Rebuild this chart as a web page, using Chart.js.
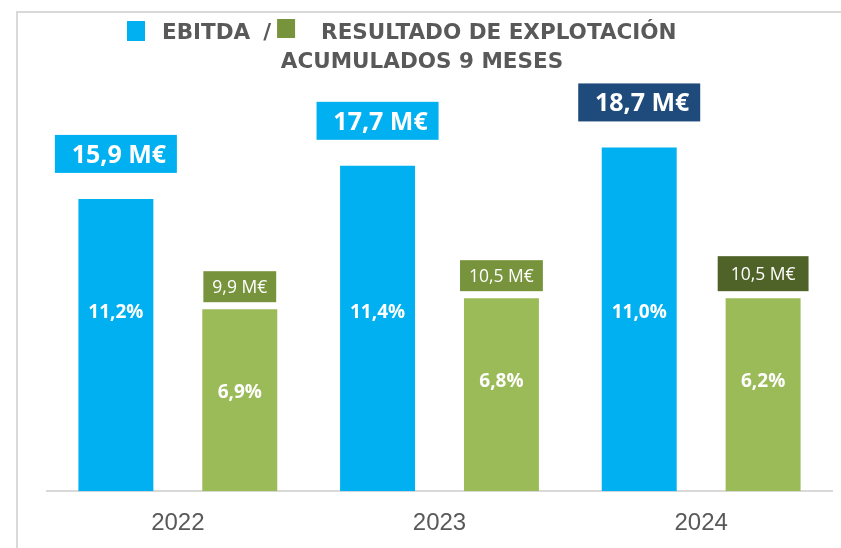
<!DOCTYPE html>
<html>
<head>
<meta charset="utf-8">
<script src="https://cdn.jsdelivr.net/npm/chart.js@4.4.1/dist/chart.umd.min.js"></script>
<style>
    html, body { margin: 0; padding: 0; background: #ffffff; }
    #wrap { position: relative; width: 841px; height: 548px; overflow: hidden; }
    #marco {
        position: absolute; left: 16px; top: 11px; right: 0; bottom: 0;
        border-left: 2px solid #d9d9d9; border-top: 2px solid #d9d9d9;
    }
    #myChart { position: absolute; left: 0; top: 0; }
</style>
</head>
<body>
<div id="wrap">
    <div id="marco"></div>
    <canvas id="myChart" width="841" height="551"></canvas>
</div>
<script>
// datos (acumulados 9 meses, M€ y margen %)
const anios = ['2022', '2023', '2024'];
const ebitda = [15.9, 17.7, 18.7];
const resultado = [9.9, 10.5, 10.5];
const margenEbitda = [11.2, 11.4, 11.0];
const margenResultado = [6.9, 6.8, 6.2];

const azul = '#00B0F0';
const verde = '#9BBB59';
const gris = '#595959';

function coma(v) {
    return v.toFixed(1).replace('.', ',');
}

// cabecera con los cuadros de color
const cabecera = {
    id: 'cabecera',
    afterDraw(chart) {
        const c = chart.ctx;
        c.save();
        c.font = 'bold 21.5px "DejaVu Sans"';
        c.textBaseline = 'alphabetic';
        let x = 127;
        c.fillStyle = azul;
        c.fillRect(x, 21, 18, 20);
        x += 18 + 17;
        c.fillStyle = gris;
        c.fillText('EBITDA', x, 39);
        x += c.measureText('EBITDA').width + 13;
        c.fillText('/', x, 39);
        x += c.measureText('/').width + 6;
        c.fillStyle = '#77933C';
        c.fillRect(x, 19, 18, 19);
        x += 18 + 26;
        c.fillStyle = gris;
        c.fillText('RESULTADO DE EXPLOTACIÓN', x, 39);
        c.textAlign = 'center';
        c.fillText('ACUMULADOS 9 MESES', 422, 68);
        c.restore();
    }
};

// cajas con el importe encima y margen dentro de la barra
const etiquetas = {
    id: 'etiquetas',
    afterDatasetsDraw(chart) {
        const c = chart.ctx;
        const abajo = chart.chartArea.bottom;
        c.save();
        c.textAlign = 'center';
        c.textBaseline = 'alphabetic';

        chart.getDatasetMeta(0).data.forEach(function (bar, i) {
            const ultimo = i === anios.length - 1;
            c.fillStyle = ultimo ? '#1F4A7C' : azul;
            c.fillRect(bar.x - 61, bar.y - 26 - 38, 122, 38);
            c.fillStyle = '#ffffff';
            c.font = 'bold 25px "Open Sans"';
            c.fillText(coma(ebitda[i]) + ' M€', bar.x + 3, bar.y - 26 - 19 + 9);
            c.font = 'bold 19px "Open Sans"';
            c.fillText(coma(margenEbitda[i]) + '%', bar.x, abajo - 180 + 7);
        });

        chart.getDatasetMeta(1).data.forEach(function (bar, i) {
            const ultimo = i === anios.length - 1;
            const txt = coma(resultado[i]) + ' M€';
            c.font = '17.5px "Open Sans"';
            const pad = ultimo ? 13 : 9;
            const alto = ultimo ? 35 : 31;
            const w = c.measureText(txt).width + pad * 2;
            c.fillStyle = ultimo ? '#4F6228' : '#77933C';
            c.fillRect(bar.x - w / 2, bar.y - 7 - alto, w, alto);
            c.fillStyle = '#ffffff';
            c.fillText(txt, bar.x, bar.y - 7 - alto / 2 + 6);
            c.font = 'bold 19px "Open Sans"';
            c.fillText(coma(margenResultado[i]) + '%', bar.x, bar.y + 82 + 7);
        });
        c.restore();
    }
};

document.addEventListener('DOMContentLoaded', function () {
    var ctx = document.getElementById('myChart').getContext('2d');
    new Chart(ctx, {
        type: 'bar',
        data: {
            labels: anios,
            datasets: [{
                label: 'EBITDA',
                data: ebitda,
                backgroundColor: azul,
                borderWidth: 0
            }, {
                label: 'Resultado de explotación',
                data: resultado,
                backgroundColor: verde,
                borderWidth: 0
            }]
        },
        options: {
            responsive: false,
            animation: false,
            categoryPercentage: 0.947,
            barPercentage: 0.605,
            layout: {
                padding: { top: 50, left: 47, right: 9, bottom: -5 }
            },
            plugins: {
                legend: { display: false },
                title: { display: false },
                tooltip: { enabled: false }
            },
            scales: {
                x: {
                    grid: { display: false, drawTicks: false },
                    border: { display: true, color: '#d9d9d9', width: 2 },
                    ticks: {
                        padding: 18,
                        color: gris,
                        font: { family: '"Liberation Sans", Arial', size: 24 }
                    }
                },
                y: {
                    display: false,
                    min: 0,
                    max: 24
                }
            }
        },
        plugins: [cabecera, etiquetas]
    });
});
</script>
</body>
</html>
